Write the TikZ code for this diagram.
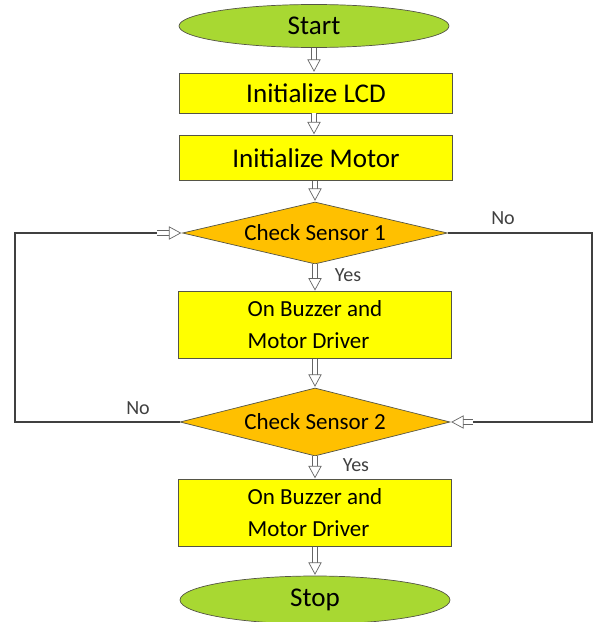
\documentclass[tikz,border=0pt]{standalone}
\usepackage{fontspec}
\setmainfont{Carlito}
\usetikzlibrary{shapes.geometric,positioning,calc,arrows.meta}
\definecolor{termgreen}{RGB}{168,216,50}
\definecolor{procyellow}{RGB}{255,255,0}
\definecolor{decorange}{RGB}{255,192,0}
\definecolor{edgegray}{RGB}{85,85,70}

\tikzset{
    term/.style={ellipse, draw=edgegray, fill=termgreen, minimum width=5.4cm, minimum height=0.86cm,
        inner sep=0pt, font=\fontsize{15.4}{18}\selectfont},
    proc/.style={rectangle, draw=edgegray, fill=procyellow, minimum width=5.45cm, inner sep=0pt,
        font=\fontsize{15.4}{18}\selectfont},
    proctwo/.style={proc, minimum height=1.33cm, align=left, font=\fontsize{13.1}{18.2}\selectfont},
    decision/.style={diamond, draw=edgegray, fill=decorange, aspect=4, inner sep=0pt,
        font=\fontsize{13.1}{16}\selectfont},
    flow/.style={draw=gray!80!black, line width=0.4pt, double=white, double distance=2.2pt,
        -{Triangle[fill=white, length=7pt, width=7.5pt]}, shorten >=0.5pt},
    loopline/.style={draw=black!75, line width=0.6pt},
    lbl/.style={font=\fontsize{11.4}{14}\selectfont, text=black!75}
}

\begin{document}
\begin{tikzpicture}[x=0.02cm, y=-0.02cm]
    \useasboundingbox (0,0) rectangle (594,622);

    % Main column
    \node[term] (start) at (314,26) {Start};
    \node[proc, minimum height=0.8cm] (lcd) at (316,93) {Initialize LCD};
    \node[proc, minimum height=0.9cm] (motor) at (316,158) {Initialize Motor};
    \node[decision, minimum width=5.3cm, minimum height=1.24cm] (sa) at (315,233) {Check Sensor 1};
    \node[proctwo] (bza) at (315,325) {On Buzzer and\\Motor Driver};
    \node[decision, minimum width=5.4cm, minimum height=1.36cm] (sb) at (315,422) {Check Sensor 2};
    \node[proctwo, minimum height=1.34cm] (bzb) at (315,513) {On Buzzer and\\Motor Driver};
    \node[term, minimum height=0.96cm] (stop) at (315,600) {Stop};

    % Downward arrows
    \draw[flow] (start.south) -- (start.south |- lcd.north);
    \draw[flow] (lcd.south -| start) -- (start |- motor.north);
    \draw[flow] (motor.south -| sa) -- (sa.north);
    \draw[flow] (sa.south) -- (bza.north);
    \draw[flow] (bza.south) -- (sb.north);
    \draw[flow] (sb.south) -- (bzb.north);
    \draw[flow] (bzb.south) -- (stop.north);

    % Yes labels
    \node[lbl] (ya) at (348,275) {Yes};
    \node[lbl] (yb) at (356,465) {Yes};

    % No from sensor 1 goes round to sensor 2
    \coordinate (rgt) at (592,300);
    \coordinate (ra) at (473,422);
    \draw[loopline] (sa.east) -| (rgt) |- (ra);
    \draw[flow] (ra) -- (sb.east);
    \node[lbl] (na) at (503,218) {No};

    % No from sensor 2 goes back to sensor 1
    \coordinate (lft) at (15,300);
    \coordinate (la) at (157,233);
    \draw[loopline] (sb.west) -| (lft) |- (la);
    \draw[flow] (la) -- (sa.west);
    \node[lbl] (nb) at (138,408) {No};
\end{tikzpicture}
\end{document}
